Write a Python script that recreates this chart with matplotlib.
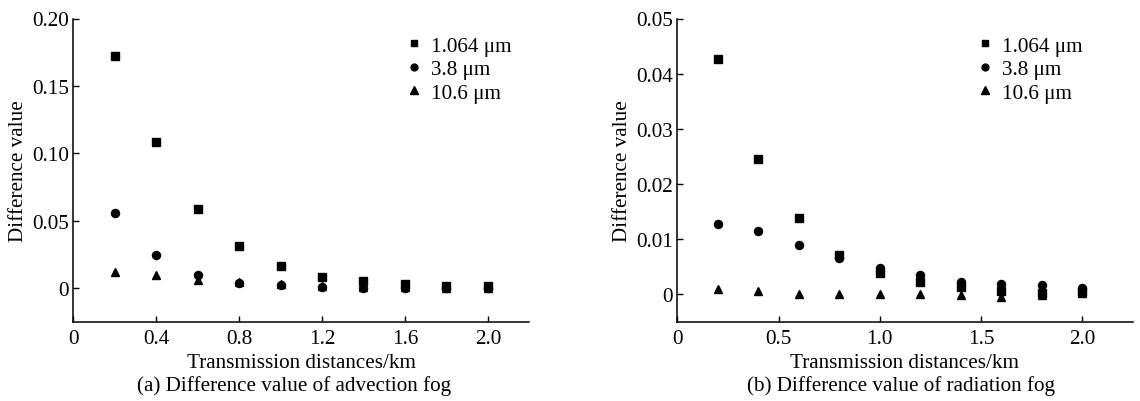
import matplotlib
matplotlib.use("Agg")
import matplotlib.pyplot as plt

plt.rcParams['font.family'] = ['Liberation Serif', 'DejaVu Serif']

distances = [0.2, 0.4, 0.6, 0.8, 1.0, 1.2, 1.4, 1.6, 1.8, 2.0]
series_labels = ['1.064 μm', '3.8 μm', '10.6 μm']
markers = ['s', 'o', '^']
marker_sizes = [5.5, 5.8, 6.2]

# (a) advection fog
adv_1064 = [0.172, 0.108, 0.0588, 0.0313, 0.0165, 0.0084, 0.0052, 0.0030, 0.0017, 0.0012]
adv_38 = [0.0558, 0.0242, 0.0099, 0.0040, 0.0021, 0.0008, 0.0003, 0.0002, 0.0001, 0.0000]
adv_106 = [0.0119, 0.0094, 0.0059, 0.0046, 0.0032, 0.0018, 0.0008, 0.0005, 0.0003, 0.0002]

# (b) radiation fog
rad_1064 = [0.0426, 0.0246, 0.0139, 0.0071, 0.0039, 0.0022, 0.0013, 0.0006, 0.0002, 0.0003]
rad_38 = [0.0127, 0.0114, 0.0089, 0.0066, 0.0048, 0.0034, 0.0022, 0.0019, 0.0016, 0.0012]
rad_106 = [0.0010, 0.0006, 0.0001, 0.0000, 0.0001, 0.0001, -0.0001, -0.0006, -0.0002, 0.0002]

a_xticks = [0, 0.4, 0.8, 1.2, 1.6, 2.0]
a_xticklabels = ['0', '0.4', '0.8', '1.2', '1.6', '2.0']
a_yticks = [0, 0.05, 0.10, 0.15, 0.20]
a_yticklabels = ['0', '0.05', '0.10', '0.15', '0.20']
b_xticks = [0, 0.5, 1.0, 1.5, 2.0]
b_xticklabels = ['0', '0.5', '1.0', '1.5', '2.0']
b_yticks = [0, 0.01, 0.02, 0.03, 0.04, 0.05]
b_yticklabels = ['0', '0.01', '0.02', '0.03', '0.04', '0.05']

xlabel = 'Transmission distances/km'
ylabel = 'Difference value'
captions = ['(a) Difference value of advection fog', '(b) Difference value of radiation fog']

W, H = 1140, 402
fig = plt.figure(figsize=(W / 100, H / 100), dpi=100)

def px_axes(left, right, top, bottom):
    return fig.add_axes([left / W, 1 - bottom / H, (right - left) / W, (bottom - top) / H])

axA = px_axes(73.3, 529.3, 19.5, 322.7)
axB = px_axes(677.3, 1132.7, 19.5, 322.7)

FS = 15.2

def style(ax, data, xlim, ylim, xt, xtl, yt, ytl, caption, leg_x, cap_x):
    for vals, m, ms, lab in zip(data, markers, marker_sizes, series_labels):
        ax.plot(distances, vals, linestyle='none', marker=m, color='black',
                markersize=ms, label=lab)
    ax.set_xlim(*xlim)
    ax.set_ylim(*ylim)
    ax.set_xticks(xt)
    ax.set_xticklabels(xtl)
    ax.set_yticks(yt)
    ax.set_yticklabels(ytl)
    for s in ['top', 'right']:
        ax.spines[s].set_visible(False)
    for s in ['left', 'bottom']:
        ax.spines[s].set_linewidth(1.1)
    ax.tick_params(direction='in', length=4, width=1.0, labelsize=FS)
    ax.tick_params(axis='x', pad=5)
    ax.tick_params(axis='y', pad=3)
    ax.set_xlabel(xlabel, fontsize=FS)
    ax.xaxis.set_label_coords(0.5, -0.104)
    ax.set_ylabel(ylabel, fontsize=FS)
    ax.yaxis.set_label_coords(-0.1, 0.5)
    fig.text(cap_x / W, 1 - 391 / H, caption, ha='center', va='baseline', fontsize=FS)
    ax.legend(loc='upper left', bbox_to_anchor=(leg_x, 0.942), frameon=False,
              fontsize=FS, handlelength=0.6, handletextpad=0.5, labelspacing=0.17,
              markerscale=0.85, borderpad=0, borderaxespad=0)

style(axA, [adv_1064, adv_38, adv_106], (0, 2.2), (-0.025, 0.20),
      a_xticks, a_xticklabels, a_yticks, a_yticklabels, captions[0], 0.7336, 294)
style(axB, [rad_1064, rad_38, rad_106], (0, 2.25), (-0.005, 0.05),
      b_xticks, b_xticklabels, b_yticks, b_yticklabels, captions[1], 0.6625, 901)

fig.savefig('out.png', dpi=100)
